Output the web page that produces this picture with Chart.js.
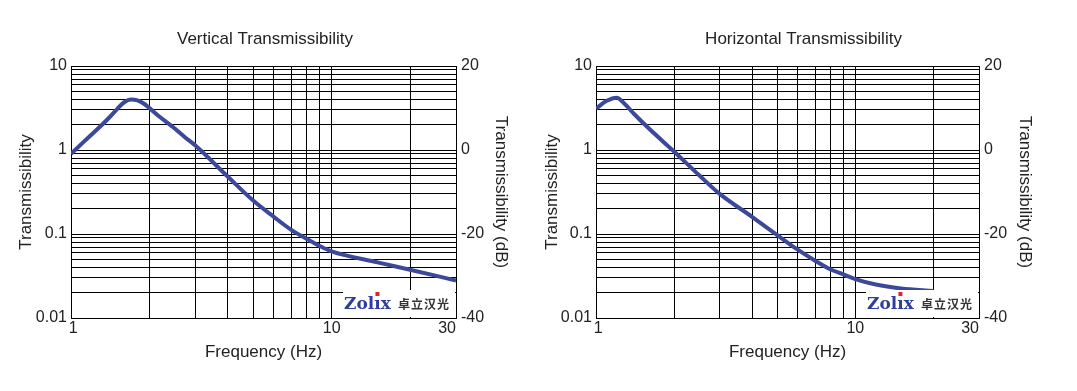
<!DOCTYPE html>
<html>
<head>
<meta charset="utf-8">
<title>Transmissibility</title>
<script src="https://cdn.jsdelivr.net/npm/chart.js@4.4.0/dist/chart.umd.min.js"></script>
<style>
  body { margin: 0; background: #fff; }
  #wrap { position: relative; width: 1077px; height: 391px; }
  canvas { position: absolute; top: 0; }
  #vert { left: 0; }
  #horiz { left: 530px; }
</style>
</head>
<body>
<div id="wrap">
  <canvas id="vert" width="530" height="391"></canvas>
  <canvas id="horiz" width="547" height="391"></canvas>
</div>
<script>
// curve values (frequency in Hz, transmissibility ratio)
const vertFreq  = [1, 1.1, 1.2, 1.3, 1.4, 1.5, 1.6, 1.7, 1.8, 1.9, 2, 2.2, 2.5, 2.75, 3, 4, 5, 6, 7, 8, 9, 10, 15, 20, 30];
const vertTrans = [0.9, 1.19, 1.53, 1.93, 2.42, 3.05, 3.7, 4.0, 3.9, 3.58, 3.15, 2.45, 1.8, 1.4, 1.13, 0.48, 0.25, 0.16, 0.112, 0.088, 0.072, 0.062, 0.046, 0.0376, 0.028];

const horizFreq  = [1, 1.1, 1.2, 1.3, 1.4, 1.6, 2, 2.5, 3, 4, 5, 6, 7, 8, 9, 10, 12, 15, 20];
const horizTrans = [3.1, 3.85, 4.2, 3.45, 2.7, 1.8, 0.96, 0.5, 0.3, 0.16, 0.097, 0.065, 0.048, 0.038, 0.033, 0.029, 0.025, 0.0225, 0.021];

// axis ticks (grid lines) and the ones that carry a label
const xTicks = [1, 2, 3, 4, 5, 6, 7, 8, 9, 10, 20, 30];
const xTickLabels = { 1: ' 1', 10: '10', 30: '30\u2007\u2007' };
const yTicks = [0.01, 0.02, 0.03, 0.04, 0.05, 0.06, 0.07, 0.08, 0.09,
                0.1, 0.2, 0.3, 0.4, 0.5, 0.6, 0.7, 0.8, 0.9,
                1, 2, 3, 4, 5, 6, 7, 8, 9, 10];
const yTickLabels = { 0.01: '0.01', 0.1: '0.1', 1: '1', 10: '10' };
const dbTicks = [-40, -20, 0, 20];

const LINE_COLOR = '#3c4899';
const TEXT_COLOR = '#222';

Chart.defaults.font.family = "'Liberation Sans', Arial, sans-serif";
Chart.defaults.color = TEXT_COLOR;

// Zolix watermark box in the lower right corner of the plot
const logoPlugin = {
    id: 'zolixLogo',
    afterDraw(chart) {
        const { ctx, chartArea: a } = chart;
        const w = 113, h = 28;
        const x0 = a.right - w, y0 = a.bottom - h;
        ctx.save();
        ctx.fillStyle = '#fff';
        ctx.fillRect(x0, y0, w - 1, h - 1);

        ctx.font = "bold 17px 'DejaVu Serif'";
        ctx.textBaseline = 'alphabetic';
        ctx.fillStyle = '#2f3d9e';
        let x = x0 + 1;
        const base = y0 + 19;
        ctx.fillText('Zol', x, base);
        x += ctx.measureText('Zol').width;
        ctx.fillText('\u0131', x, base);
        const iw = ctx.measureText('\u0131').width;
        ctx.fillStyle = '#d8262c';
        ctx.fillRect(x + iw / 2 - 2, base - 17, 4, 4);
        ctx.fillStyle = '#2f3d9e';
        x += iw;
        ctx.fillText('x', x, base);

        ctx.font = "bold 12px 'Noto Sans CJK SC'";
        ctx.fillStyle = '#333';
        const chars = ['卓', '立', '汉', '光'];
        chars.forEach((c, i) => ctx.fillText(c, x0 + 55 + i * 13, base));
        ctx.restore();
    }
};

function makeChart(id, title, freq, trans, lay) {
    const points = freq.map((f, i) => ({ x: f, y: trans[i] }));
    return new Chart(document.getElementById(id), {
        type: 'line',
        data: {
            datasets: [{
                data: points,
                borderColor: LINE_COLOR,
                borderWidth: 4,
                pointRadius: 0,
                fill: false,
                cubicInterpolationMode: 'monotone'
            }]
        },
        options: {
            responsive: false,
            animation: false,
            layout: { padding: 0 },
            plugins: {
                legend: { display: false },
                tooltip: { enabled: false },
                title: {
                    display: true,
                    text: title,
                    color: TEXT_COLOR,
                    font: { size: 17, weight: 'normal' },
                    padding: { top: 28.8, bottom: 16.8 }
                }
            },
            scales: {
                x: {
                    type: 'logarithmic',
                    min: 1,
                    max: 30,
                    afterBuildTicks: s => { s.ticks = xTicks.map(v => ({ value: v })); },
                    afterFit: s => { s.height = 73; },
                    ticks: {
                        autoSkip: false,
                        maxRotation: 0,
                        padding: 1,
                        font: { size: 16 },
                        callback: v => xTickLabels[v] || ''
                    },
                    grid: { color: '#000', lineWidth: 1, drawTicks: false },
                    border: { color: '#000', width: 1 },
                    title: {
                        display: true,
                        text: 'Frequency (Hz)',
                        font: { size: 17 },
                        padding: { top: 0, bottom: 28.8 }
                    }
                },
                y: {
                    type: 'logarithmic',
                    position: 'left',
                    min: 0.01,
                    max: 10,
                    afterBuildTicks: s => { s.ticks = yTicks.map(v => ({ value: v })); },
                    afterFit: s => { s.width = lay.left; },
                    ticks: {
                        autoSkip: false,
                        padding: 4,
                        font: { size: 16 },
                        callback: v => yTickLabels[v] || ''
                    },
                    grid: { color: '#000', lineWidth: 1, drawTicks: false },
                    border: { color: '#000', width: 1 },
                    title: {
                        display: true,
                        text: 'Transmissibility',
                        font: { size: 17 },
                        padding: { top: lay.leftTitle, bottom: 0 }
                    }
                },
                yDb: {
                    type: 'linear',
                    position: 'right',
                    min: -40,
                    max: 20,
                    afterBuildTicks: s => { s.ticks = dbTicks.map(v => ({ value: v })); },
                    afterFit: s => { s.width = lay.right; },
                    ticks: { padding: 5, font: { size: 16 } },
                    grid: { display: false, drawTicks: false },
                    border: { display: false },
                    title: {
                        display: true,
                        text: 'Transmissibility (dB)',
                        font: { size: 17 },
                        padding: { top: lay.rightTitle, bottom: 0 }
                    }
                }
            }
        },
        plugins: [logoPlugin]
    });
}

makeChart('vert', 'Vertical Transmissibility', vertFreq, vertTrans,
    { left: 71, right: 74, leftTitle: 15.8, rightTitle: 18.8 });
makeChart('horiz', 'Horizontal Transmissibility', horizFreq, horizTrans,
    { left: 66, right: 98, leftTitle: 11.8, rightTitle: 41.8 });
</script>
</body>
</html>
